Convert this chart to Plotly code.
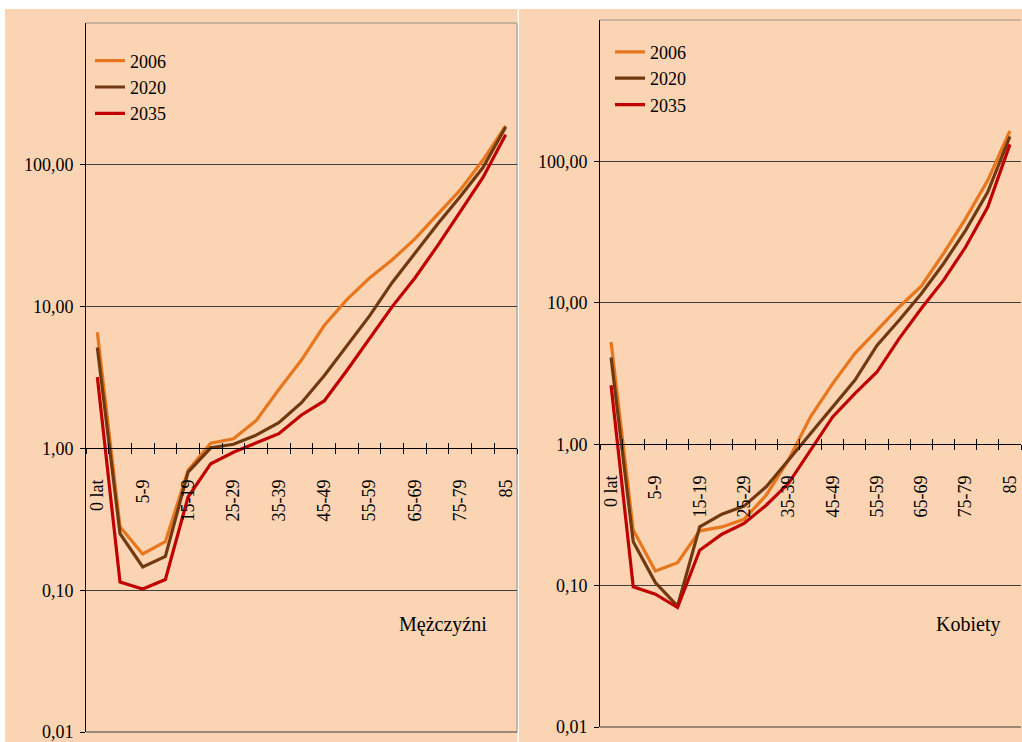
import plotly.graph_objects as go

# ---------------- data ----------------
categories = ["0 lat", "1-4", "5-9", "10-14", "15-19", "20-24", "25-29", "30-34",
              "35-39", "40-44", "45-49", "50-54", "55-59", "60-64", "65-69",
              "70-74", "75-79", "80-84", "85"]
tick_labels = ["0 lat", "", "5-9", "", "15-19", "", "25-29", "", "35-39", "",
               "45-49", "", "55-59", "", "65-69", "", "75-79", "", "85"]
series_names = ["2006", "2020", "2035"]

men_2006 = [6.6, 0.28, 0.18, 0.22, 0.70, 1.09, 1.17, 1.57, 2.6, 4.2, 7.35,
            11.2, 15.9, 21.4, 30.0, 45.0, 66.5, 108, 188]
men_2020 = [5.15, 0.25, 0.146, 0.173, 0.68, 1.01, 1.07, 1.24, 1.52, 2.1, 3.25,
            5.3, 8.6, 14.8, 23.8, 38.2, 59.7, 95.7, 185]
men_2035 = [3.18, 0.114, 0.102, 0.119, 0.454, 0.78, 0.94, 1.09, 1.27, 1.72, 2.16,
            3.54, 5.9, 10.0, 15.9, 26.9, 46.7, 81.4, 163]

women_2006 = [5.28, 0.247, 0.127, 0.145, 0.244, 0.26, 0.294, 0.436, 0.77, 1.56,
              2.68, 4.37, 6.39, 9.34, 13.1, 22.3, 39.4, 73.4, 164]
women_2020 = [4.1, 0.204, 0.105, 0.0716, 0.26, 0.32, 0.365, 0.50, 0.77, 1.19,
              1.84, 2.83, 5.0, 7.52, 11.6, 18.9, 32.5, 60.7, 150]
women_2035 = [2.61, 0.098, 0.087, 0.070, 0.178, 0.231, 0.275, 0.37, 0.527, 0.91,
              1.56, 2.28, 3.24, 5.58, 9.1, 14.4, 24.8, 47.5, 132]

y_tickvals = [0.01, 0.1, 1, 10, 100]
y_ticktext = ["0,01", "0,10", "1,00", "10,00", "100,00"]
panel_titles = ["Mężczyźni", "Kobiety"]

# ---------------- style ----------------
W, H = 1022, 742
FONT = "Liberation Serif"
FS = 18
BG = "#FBD4B4"
COLORS = ["#E8761C", "#71390F", "#C00000"]
GRID = "#3f3f3f"
BORDER = "#b8a898"

def px_x(p):
    return p / W

def px_y(p):
    return 1 - p / H

Y_LOG_RANGE = [-2, 3]
X_RANGE = [-0.5, len(categories) - 0.5]

# panel geometry
left_dom_x = [px_x(86), px_x(517)]
left_dom_y = [px_y(732), px_y(23)]
right_dom_x = [px_x(600), px_x(1021)]
right_dom_y = [px_y(727), px_y(20)]

def axis_pos(dom):
    # fraction of the log axis where value 1 sits
    frac = (0 - Y_LOG_RANGE[0]) / (Y_LOG_RANGE[1] - Y_LOG_RANGE[0])
    return dom[0] + frac * (dom[1] - dom[0])

fig = go.Figure()

panels = [
    ([men_2006, men_2020, men_2035], "x", "y", "legend"),
    ([women_2006, women_2020, women_2035], "x2", "y2", "legend2"),
]
for data, xa, ya, lg in panels:
    for name, vals, col in zip(series_names, data, COLORS):
        fig.add_trace(go.Scatter(
            x=categories, y=vals, name=name, mode="lines",
            line=dict(color=col, width=3.2),
            xaxis=xa, yaxis=ya, legend=lg, showlegend=True,
            hoverinfo="skip",
        ))

def xaxis_main(dom, ydom):
    return dict(
        domain=dom, type="category", range=X_RANGE,
        anchor="free", position=axis_pos(ydom),
        tickmode="array", tickvals=categories, ticktext=tick_labels,
        tickson="boundaries", ticks="outside", ticklen=5, tickwidth=1,
        tickcolor="black", tickangle=-90, ticklabelstandoff=23,
        showline=True, linecolor="black", linewidth=1,
        showgrid=False, zeroline=False, automargin=False,
        tickfont=dict(family=FONT, size=FS, color="black"),
        fixedrange=True,
    )

def xaxis_cross(dom, ydom, over):
    return dict(
        domain=dom, type="category", range=X_RANGE, matches=over, overlaying=over,
        anchor="free", position=axis_pos(ydom),
        tickmode="array", tickvals=categories, ticktext=[""] * len(categories),
        tickson="boundaries", ticks="inside", ticklen=5, tickwidth=1,
        tickcolor="black", showticklabels=False, automargin=False,
        showline=False, showgrid=False, zeroline=False, fixedrange=True,
    )

def yaxis_main(dom, anchor_x):
    return dict(
        domain=dom, type="log", range=Y_LOG_RANGE, anchor=anchor_x,
        tickmode="array", tickvals=y_tickvals, ticktext=y_ticktext,
        ticks="outside", ticklen=5, tickcolor="black", tickwidth=1,
        ticklabelstandoff=3, ticklabeloverflow="allow", automargin=False,
        showline=True, linecolor="black", linewidth=1,
        showgrid=True, gridcolor=GRID, gridwidth=1, zeroline=False,
        tickfont=dict(family=FONT, size=FS, color="black"),
        fixedrange=True,
    )

fig.update_layout(
    width=W, height=H, autosize=False,
    margin=dict(l=0, r=0, t=0, b=0, pad=0, autoexpand=False),
    paper_bgcolor="white", plot_bgcolor="rgba(0,0,0,0)",
    font=dict(family=FONT, size=FS, color="black"),
    xaxis=xaxis_main(left_dom_x, left_dom_y),
    xaxis2=xaxis_main(right_dom_x, right_dom_y),
    xaxis3=xaxis_cross(left_dom_x, left_dom_y, "x"),
    xaxis4=xaxis_cross(right_dom_x, right_dom_y, "x2"),
    yaxis=yaxis_main(left_dom_y, "x"),
    yaxis2=yaxis_main(right_dom_y, "x2"),
    legend=dict(
        x=px_x(90), y=px_y(42.4), xanchor="left", yanchor="top",
        bgcolor="rgba(0,0,0,0)", borderwidth=0,
        font=dict(family=FONT, size=FS, color="black"),
    ),
    legend2=dict(
        x=px_x(610), y=px_y(33.6), xanchor="left", yanchor="top",
        bgcolor="rgba(0,0,0,0)", borderwidth=0,
        font=dict(family=FONT, size=FS, color="black"),
    ),
    showlegend=True,
)

# invisible traces on the overlay axes so they are rendered
for xa, ya in (("x3", "y"), ("x4", "y2")):
    fig.add_trace(go.Scatter(x=[categories[0]], y=[1], xaxis=xa, yaxis=ya,
                             mode="markers", marker=dict(opacity=0),
                             showlegend=False, hoverinfo="skip"))

shapes = [
    # panel backgrounds
    dict(type="rect", xref="paper", yref="paper", x0=px_x(5), x1=px_x(517.5),
         y0=0, y1=px_y(9), fillcolor=BG, line=dict(width=0), layer="below"),
    dict(type="rect", xref="paper", yref="paper", x0=px_x(519), x1=1,
         y0=0, y1=px_y(9), fillcolor=BG, line=dict(width=0), layer="below"),
    # plot area borders
    dict(type="line", xref="x domain", yref="y domain", x0=0, x1=1, y0=1, y1=1,
         line=dict(color=BORDER, width=1.5), layer="below"),
    dict(type="line", xref="x domain", yref="y domain", x0=1, x1=1, y0=0, y1=1,
         line=dict(color=BORDER, width=1.5), layer="below"),
    dict(type="line", xref="x domain", yref="y domain", x0=0, x1=1, y0=0, y1=0,
         line=dict(color=GRID, width=1), layer="below"),
    dict(type="line", xref="x2 domain", yref="y2 domain", x0=0, x1=1, y0=1, y1=1,
         line=dict(color=BORDER, width=1.5), layer="below"),
    dict(type="line", xref="x2 domain", yref="y2 domain", x0=0, x1=1, y0=0, y1=0,
         line=dict(color=GRID, width=1), layer="below"),
]
fig.update_layout(shapes=shapes)

fig.add_annotation(text=panel_titles[0], xref="paper", yref="paper",
                   x=px_x(443), y=px_y(624), xanchor="center", yanchor="middle",
                   showarrow=False,
                   font=dict(family=FONT, size=20, color="black"))
fig.add_annotation(text=panel_titles[1], xref="paper", yref="paper",
                   x=px_x(968), y=px_y(624), xanchor="center", yanchor="middle",
                   showarrow=False,
                   font=dict(family=FONT, size=20, color="black"))

fig.write_html(
    "out.html",
    config={"displayModeBar": False},
    post_script=(
        "var h=document.documentElement, b=document.body;"
        "h.style.margin='0px';h.style.padding='0px';h.style.overflow='hidden';"
        "b.style.margin='0px';b.style.padding='0px';b.style.overflow='hidden';"
    ),
)
